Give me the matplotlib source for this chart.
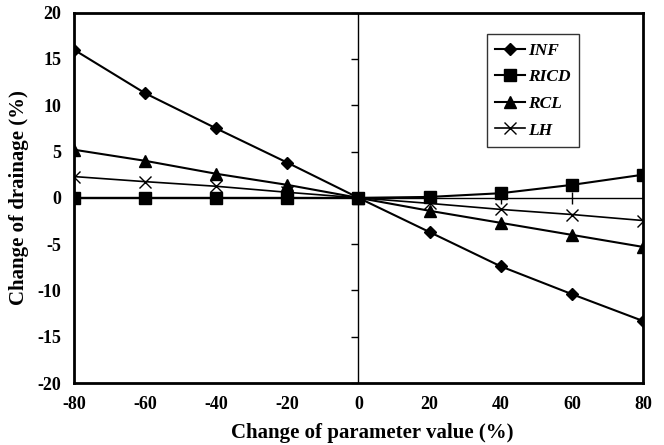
import matplotlib
matplotlib.use("Agg")
import matplotlib.pyplot as plt
from matplotlib.lines import TICKLEFT

x_values = [-80, -60, -40, -20, 0, 20, 40, 60, 80]
inf = [16.0, 11.3, 7.5, 3.8, 0.0, -3.7, -7.4, -10.4, -13.3]
ricd = [0.0, 0.0, 0.0, 0.0, 0.0, 0.1, 0.5, 1.4, 2.5]
rcl = [5.2, 4.0, 2.6, 1.4, 0.0, -1.4, -2.7, -4.0, -5.3]
lh = [2.3, 1.75, 1.25, 0.6, 0.0, -0.6, -1.25, -1.8, -2.45]

x_ticks = [-80, -60, -40, -20, 0, 20, 40, 60, 80]
y_ticks = [-20, -15, -10, -5, 0, 5, 10, 15, 20]

plt.rcParams['font.family'] = ['Liberation Serif', 'DejaVu Serif']
plt.rcParams['font.weight'] = 'bold'
plt.rcParams['axes.unicode_minus'] = False

fig = plt.figure(figsize=(6.64, 4.45), dpi=100)
ax = fig.add_axes([0.1114, 0.1393, 0.8570, 0.8322])

ax.set_xlim(-80, 80)
ax.set_ylim(-20, 20)

# inner axes lines through zero
ax.axhline(0, color='black', lw=1.0, zorder=1)
ax.axvline(0, color='black', lw=1.0, zorder=1)
ax.plot(x_ticks, [0] * len(x_ticks), ls='none', marker='|',
        markersize=8, color='black', mew=1.0, zorder=1)
ax.plot([0] * len(y_ticks), y_ticks, ls='none', marker=TICKLEFT,
        markersize=5, color='black', mew=1.0, zorder=1, clip_on=False)

ax.plot(x_values, inf, color='black', lw=1.5, marker='D', markersize=6.5,
        label='INF', zorder=3)
ax.plot(x_values, ricd, color='black', lw=1.5, marker='s', markersize=8.5,
        label='RICD', zorder=3)
ax.plot(x_values, rcl, color='black', lw=1.5, marker='^', markersize=8.5,
        label='RCL', zorder=3)
ax.plot(x_values, lh, color='black', lw=1.2, marker='x', markersize=9,
        mew=1.0, label='LH', zorder=3)

ax.set_xticks(x_ticks)
ax.set_yticks(y_ticks)
ax.tick_params(axis='both', length=0, labelsize=13, pad=9)
for lbl in ax.get_xticklabels() + ax.get_yticklabels():
    lbl.set_fontweight('bold')

for s in ax.spines.values():
    s.set_linewidth(2.0)
    s.set_color('black')

ax.set_xlabel('Change of parameter value (%)', fontsize=15, fontweight='bold')
ax.xaxis.set_label_coords(0.525, -0.108)
ax.set_ylabel('Change of drainage (%)', fontsize=15, fontweight='bold',
              labelpad=6)

leg = ax.legend(loc='upper left', bbox_to_anchor=(0.725, 0.9425),
                frameon=True, fancybox=False, edgecolor='black',
                prop={'style': 'italic', 'weight': 'bold', 'size': 12.5},
                handlelength=1.7, labelspacing=0.6, borderpad=0.5,
                handletextpad=0.2, borderaxespad=0)
leg.get_frame().set_linewidth(1.0)

fig.savefig('out.png', dpi=100)
